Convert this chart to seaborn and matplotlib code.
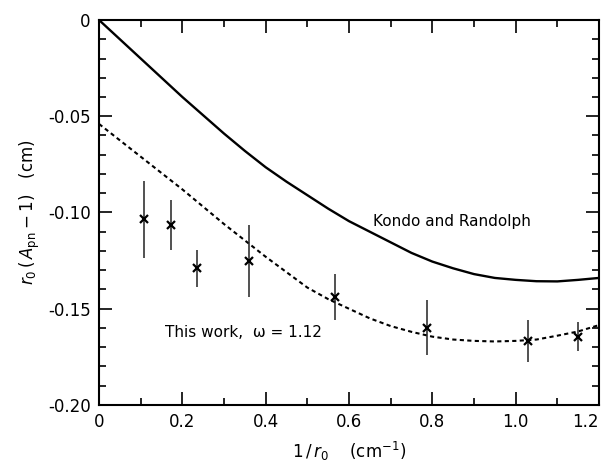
import matplotlib
matplotlib.use("Agg")
import matplotlib.pyplot as plt
import seaborn as sns
import pandas as pd
from matplotlib.ticker import MultipleLocator, FixedLocator

# curva de Kondo y Randolph (linea continua), leida cada 0.05
kr_x = [0, 0.05, 0.1, 0.15, 0.2, 0.25, 0.3, 0.35, 0.4, 0.45, 0.5, 0.55, 0.6,
        0.65, 0.7, 0.75, 0.8, 0.85, 0.9, 0.95, 1.0, 1.05, 1.1, 1.15, 1.2]
kr_y = [0, -0.010, -0.020, -0.030, -0.040, -0.0495, -0.059, -0.068, -0.0765,
        -0.084, -0.091, -0.098, -0.1045, -0.110, -0.1155, -0.121, -0.1255,
        -0.129, -0.132, -0.134, -0.135, -0.1357, -0.1358, -0.135, -0.134]

# ajuste de este trabajo (linea discontinua)
fit_x = kr_x
fit_y = [-0.054, -0.0625, -0.071, -0.0795, -0.088, -0.097, -0.106, -0.1145,
         -0.123, -0.131, -0.139, -0.145, -0.150, -0.155, -0.159, -0.162,
         -0.1645, -0.166, -0.1667, -0.1670, -0.1667, -0.166, -0.1640,
         -0.1618, -0.1585]

# puntos experimentales con barras de error
pts_x = [0.108, 0.172, 0.236, 0.360, 0.566, 0.788, 1.030, 1.149]
pts_y = [-0.1034, -0.1065, -0.1290, -0.1252, -0.1437, -0.1598, -0.1668, -0.1645]
pts_err = [0.020, 0.013, 0.0095, 0.0187, 0.012, 0.0143, 0.0108, 0.0075]

xticks = [0, 0.2, 0.4, 0.6, 0.8, 1.0, 1.2]
xticklabels = ["0", "0.2", "0.4", "0.6", "0.8", "1.0", "1.2"]
yticks = [0, -0.05, -0.10, -0.15, -0.20]
yticklabels = ["0", "-0.05", "-0.10", "-0.15", "-0.20"]

sns.set_style("ticks", {'text.color': 'black', 'axes.labelcolor': 'black',
                        'axes.edgecolor': 'black'})
plt.rcParams['font.family'] = ['DejaVu Sans']

fig = plt.figure(figsize=(6.02, 4.63), dpi=100)
ax = fig.add_axes([0.1645, 0.1253, 0.8305, 0.8315])

kr = pd.DataFrame({'x': kr_x, 'y': kr_y})
fit = pd.DataFrame({'x': fit_x, 'y': fit_y})
sns.lineplot(data=kr, x='x', y='y', ax=ax, color='black', linewidth=1.7)
sns.lineplot(data=fit, x='x', y='y', ax=ax, color='black', linewidth=1.5)
ax.lines[-1].set_dashes((2.0, 1.6))

ax.errorbar(pts_x, pts_y, yerr=pts_err, fmt='x', color='black',
            ecolor='#222222', elinewidth=1.1, capsize=0, markersize=6,
            markeredgewidth=1.6)

ax.text(0.658, -0.1048, "Kondo and Randolph", fontsize=11, va='center',
        color='black')
ax.text(0.159, -0.1624, "This work,  \u03c9 = 1.12", fontsize=11, va='center',
        color='black')

ax.set_xlim(0, 1.2)
ax.set_ylim(-0.20, 0)
ax.xaxis.set_major_locator(FixedLocator(xticks))
ax.set_xticklabels(xticklabels)
ax.get_xticklabels()[-1].set_horizontalalignment('right')
ax.xaxis.set_minor_locator(MultipleLocator(0.1))
ax.yaxis.set_major_locator(FixedLocator(yticks))
ax.set_yticklabels(yticklabels)
ax.yaxis.set_minor_locator(MultipleLocator(0.01))

ax.tick_params(which='both', direction='in', top=True, right=True,
               labelsize=12, width=1.2, colors='black')
ax.tick_params(which='major', length=9.5, pad=6)
ax.tick_params(which='minor', length=5)
for s in ax.spines.values():
    s.set_linewidth(1.5)
    s.set_visible(True)

ax.set_xlabel(r"$1\,/\,r_0$    (cm$^{-1}$)", fontsize=12, labelpad=6)
ax.set_ylabel(r"$r_0\,(\,A_{\rm pn}-1)$   (cm)", fontsize=12, labelpad=4)

fig.savefig("out.png", dpi=100)
